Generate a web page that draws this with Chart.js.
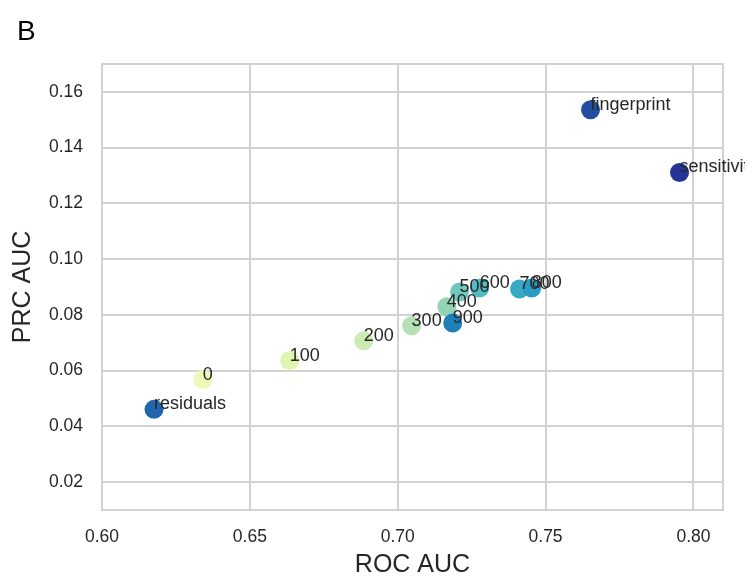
<!DOCTYPE html>
<html>
<head>
<meta charset="utf-8">
<script src="https://cdn.jsdelivr.net/npm/chart.js@4.4.0/dist/chart.umd.min.js"></script>
<style>
  html, body { margin: 0; padding: 0; background: #ffffff; }
  canvas { display: block; }
</style>
</head>
<body>
<canvas id="aucChart" width="755" height="581"></canvas>
<script>
// feature sets and their scores
var names = ['0', '100', '200', '300', '400', '500', '600', '700', '800', '900', 'residuals', 'fingerprint', 'sensitivity'];
var rocAuc = [0.6341, 0.6635, 0.6885, 0.7047, 0.7166, 0.7209, 0.7277, 0.7412, 0.7453, 0.7186, 0.6176, 0.7652, 0.7953];
var prcAuc = [0.0568, 0.0636, 0.0707, 0.0761, 0.0829, 0.0882, 0.0896, 0.0893, 0.0896, 0.0771, 0.0461, 0.1536, 0.1311];
var colors = ['#eff8b9', '#e3f4b1', '#cdebb4', '#b5e1b6', '#93d4b9', '#72c8bd', '#52bcc2', '#37aac3', '#2a9cc1', '#1f80b8', '#2166ac', '#234ea0', '#253595'];

var xTicks = [0.60, 0.65, 0.70, 0.75, 0.80];
var yTicks = [0.02, 0.04, 0.06, 0.08, 0.10, 0.12, 0.14, 0.16];

var points = [];
for (var i = 0; i < names.length; i++) {
    points.push({ x: rocAuc[i], y: prcAuc[i] });
}

var gridColor = '#d2d2d2';
var textColor = '#262626';

// point labels, frame and panel letter
var annotate = {
    id: 'annotate',
    afterDatasetsDraw: function (chart) {
        var ctx = chart.ctx;
        var xs = chart.scales.x, ys = chart.scales.y;
        var a = chart.chartArea;

        ctx.save();
        ctx.strokeStyle = gridColor;
        ctx.lineWidth = 2;
        ctx.beginPath();
        ctx.moveTo(a.left, a.top);
        ctx.lineTo(a.right, a.top);
        ctx.lineTo(a.right, a.bottom);
        ctx.stroke();
        ctx.restore();

        ctx.save();
        ctx.beginPath();
        ctx.rect(0, 0, 745, chart.height);
        ctx.clip();
        ctx.fillStyle = textColor;
        ctx.font = '18px "Liberation Sans", Arial, sans-serif';
        ctx.textAlign = 'left';
        ctx.textBaseline = 'alphabetic';
        for (var i = 0; i < names.length; i++) {
            ctx.fillText(names[i], xs.getPixelForValue(rocAuc[i]), ys.getPixelForValue(prcAuc[i]));
        }
        ctx.restore();

        ctx.save();
        ctx.fillStyle = '#000000';
        ctx.font = '28px "Liberation Sans", Arial, sans-serif';
        ctx.textBaseline = 'alphabetic';
        ctx.fillText('B', 17, 40);
        ctx.restore();
    }
};

var ctx = document.getElementById('aucChart').getContext('2d');
var chart = new Chart(ctx, {
    type: 'scatter',
    data: {
        datasets: [{
            data: points,
            backgroundColor: colors,
            borderWidth: 0,
            pointRadius: 9.5,
            pointHoverRadius: 9.5
        }]
    },
    options: {
        responsive: false,
        animation: false,
        devicePixelRatio: 1,
        layout: { padding: { top: 64, right: 32, left: 0, bottom: 0 } },
        plugins: {
            legend: { display: false },
            tooltip: { enabled: false }
        },
        scales: {
            x: {
                type: 'linear',
                min: 0.60,
                max: 0.81,
                afterBuildTicks: function (scale) {
                    scale.ticks = xTicks.map(function (v) { return { value: v }; });
                },
                afterFit: function (scale) { scale.height = 71; },
                grid: { color: gridColor, lineWidth: 2, drawTicks: false },
                border: { color: gridColor, width: 2 },
                ticks: {
                    padding: 17,
                    color: textColor,
                    font: { family: '"Liberation Sans", Arial, sans-serif', size: 17.5 },
                    callback: function (v) { return Number(v).toFixed(2); }
                },
                title: {
                    display: true,
                    text: 'ROC AUC',
                    color: textColor,
                    font: { family: '"Liberation Sans", Arial, sans-serif', size: 25 },
                    padding: { top: 0, bottom: 1 }
                }
            },
            y: {
                type: 'linear',
                min: 0.01,
                max: 0.17,
                afterBuildTicks: function (scale) {
                    scale.ticks = yTicks.map(function (v) { return { value: v }; });
                },
                afterFit: function (scale) { scale.width = 102; },
                grid: { color: gridColor, lineWidth: 2, drawTicks: false },
                border: { color: gridColor, width: 2 },
                ticks: {
                    padding: 19,
                    color: textColor,
                    font: { family: '"Liberation Sans", Arial, sans-serif', size: 17.5 },
                    callback: function (v) { return Number(v).toFixed(2); }
                },
                title: {
                    display: true,
                    text: 'PRC AUC',
                    color: textColor,
                    font: { family: '"Liberation Sans", Arial, sans-serif', size: 25 },
                    padding: { top: 8, bottom: 0 }
                }
            }
        }
    },
    plugins: [annotate]
});
</script>
</body>
</html>
